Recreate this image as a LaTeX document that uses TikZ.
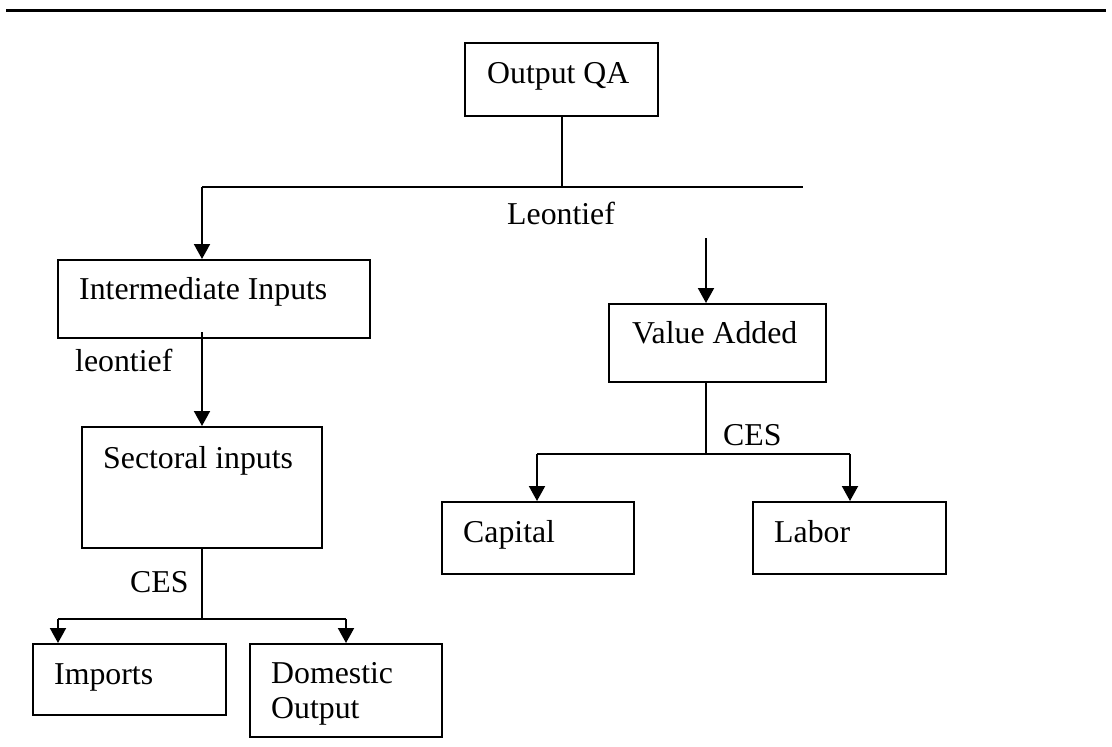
\documentclass[tikz,border=0pt]{standalone}
\usepackage{fontspec}
\setmainfont{Liberation Serif}
\usetikzlibrary{arrows.meta}
\begin{document}
\begin{tikzpicture}[x=1pt,y=-1pt,
  box/.style={draw, line width=2pt, inner sep=0pt, rectangle},
  lbl/.style={anchor=base west, inner sep=0pt, font=\fontsize{31.8}{35}\selectfont},
  conn/.style={line width=1.6pt},
  arr/.style={line width=2pt, -{Triangle[length=15pt,width=16pt]}}]
\useasboundingbox (0,0) rectangle (1112,747);
% top rule
\coordinate (rl) at (6,10);
\coordinate (rr) at (1106,10);
\draw[line width=3pt] (rl) -- (rr);
% boxes
\node[box, minimum width=193pt, minimum height=73pt] (oqa) at (561.5,79.5) {};
\node[box, minimum width=312pt, minimum height=78pt] (ii) at (214,299) {};
\node[box, minimum width=240pt, minimum height=121pt] (si) at (202,487.5) {};
\node[box, minimum width=193pt, minimum height=71pt] (im) at (129.5,679.5) {};
\node[box, minimum width=192pt, minimum height=93pt] (do) at (346,690.5) {};
\node[box, minimum width=217pt, minimum height=78pt] (va) at (717.5,343) {};
\node[box, minimum width=192pt, minimum height=72pt] (ca) at (538,538) {};
\node[box, minimum width=193pt, minimum height=72pt] (la) at (849.5,538) {};
% texts
\node[lbl] (toqa) at (487,83) {Output QA};
\node[lbl] (tii) at (79,299) {Intermediate Inputs};
\node[lbl] (tsi) at (103,468) {Sectoral inputs};
\node[lbl] (tim) at (54,684) {Imports};
\node[lbl] (tdo) at (271,683) {\begin{tabular}[t]{@{}l@{}}Domestic\\Output\end{tabular}};
\node[lbl] (tva) at (632,343) {Value Added};
\node[lbl] (tca) at (463,542) {Capital};
\node[lbl] (tla) at (774,542) {Labor};
\node[lbl] (leo1) at (507,224) {Leontief};
\node[lbl] (leo2) at (75,371) {leontief};
\node[lbl] (ces1) at (130,592) {CES};
\node[lbl] (ces2) at (723,445) {CES};
% junction coordinates
\coordinate (j0) at (562,187);
\coordinate (jl) at (202,187);
\coordinate (jr) at (803,187);
\coordinate (vtop) at (706,238);
\coordinate (iis) at (202,332);
\coordinate (j1) at (202,619);
\coordinate (j1l) at (58,619);
\coordinate (j1r) at (346,619);
\coordinate (j2) at (706,454);
\coordinate (j2l) at (537,454);
\coordinate (j2r) at (850,454);
% connectors
\draw[conn] (oqa.south -| j0) -- (j0);
\draw[conn] (jl) -- (jr);
\draw[arr] (jl) -- (jl |- ii.north);
\draw[arr] (vtop) -- (vtop |- va.north);
\draw[arr] (iis) -- (iis |- si.north);
\draw[conn] (si.south -| j1) -- (j1);
\draw[conn] (j1l) -- (j1r);
\draw[arr] (j1l) -- (j1l |- im.north);
\draw[arr] (j1r) -- (j1r |- do.north);
\draw[conn] (va.south -| j2) -- (j2);
\draw[conn] (j2l) -- (j2r);
\draw[arr] (j2l) -- (j2l |- ca.north);
\draw[arr] (j2r) -- (j2r |- la.north);
\end{tikzpicture}
\end{document}
